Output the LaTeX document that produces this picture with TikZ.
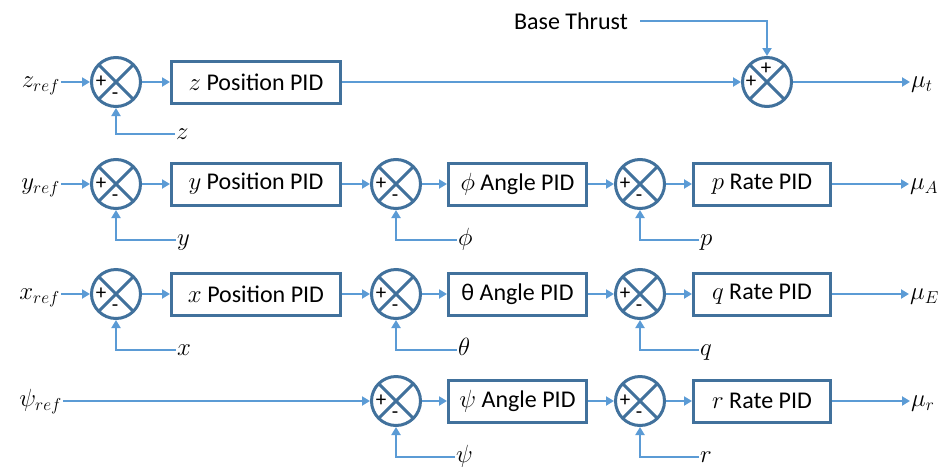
\documentclass[tikz,border=0pt]{standalone}
\usepackage{fontspec}
\setmainfont{Carlito}
\usetikzlibrary{arrows.meta,calc}

\definecolor{wireblue}{HTML}{5B9BD5}
\definecolor{frameblue}{HTML}{41719C}

\tikzset{
  block/.style={draw=frameblue, line width=3pt, minimum width=#1,
    minimum height=42pt, inner sep=0pt,
    font=\fontsize{24}{28}\selectfont},
  block/.default=169pt,
  sumnode/.style={circle, draw=frameblue, line width=3pt,
    minimum size=49pt, inner sep=0pt,
    path picture={\draw[frameblue, line width=3pt]
      (path picture bounding box.north west) -- (path picture bounding box.south east)
      (path picture bounding box.north east) -- (path picture bounding box.south west);}},
  signmark/.style={font=\fontsize{21}{24}\selectfont, inner sep=0pt},
  wireline/.style={draw=wireblue, line width=2.8pt},
  flow/.style={wireline, -{Triangle[length=8pt,width=9pt]}},
  sig/.style={font=\fontsize{26}{30}\selectfont, inner sep=1pt,
    text height=11.2pt, text depth=0pt},
  plain/.style={font=\fontsize{24}{28}\selectfont, inner ysep=1pt},
}

% summing junction: name, x, y (+ on the left, - at the bottom)
\newcommand\sumjunction[3]{%
  \node[sumnode] (#1) at (#2,#3) {};
  \node[signmark] (#1p) at ($(#1)+(-15,0)$) {+};
  \node[signmark] (#1m) at ($(#1)+(-1,14)$) {-};
}

\begin{document}
\begin{tikzpicture}[x=1pt, y=-1pt]
\useasboundingbox (0,0) rectangle (939,469);

% ---------------- altitude loop ----------------
\node[sig, anchor=east] (zref) at (61,82) {$z_{ref}$};
\sumjunction{sza}{116}{82}
\node[block] (zbox) at (256,82) {$z$ Position PID};
\node[sumnode] (thr) at (767,82) {};
\node[signmark] (thrp) at ($(thr)+(-16,0)$) {+};
\node[signmark] (thrq) at ($(thr)+(-1,-13)$) {+};
\node[plain, anchor=east, inner xsep=12pt] (base) at (640,21) {Base Thrust};
\node[sig, anchor=west] (mut) at (910,82) {$\mu_t$};
\node[sig, anchor=west] (zfb) at (175,134) {$z$};

\draw[flow] (zref.east) -- (sza);
\draw[flow] (sza) -- (zbox);
\draw[flow] (zbox) -- (thr);
\draw[flow] (base.east) -| (thr.north);
\draw[flow] (thr) -- (mut.west);
\draw[flow] (zfb.west) -| (sza.south);

% ---------------- roll loop ----------------
\node[sig, anchor=east] (yref) at (61,184) {$y_{ref}$};
\sumjunction{sya}{116}{184}
\node[block] (ybox) at (256,184) {$y$ Position PID};
\sumjunction{syb}{396}{184}
\node[block=138pt] (phibox) at (517.5,184) {$\phi$ Angle PID};
\sumjunction{syc}{640}{184}
\node[block=137pt] (pbox) at (762,184) {$p$ Rate PID};
\node[sig, anchor=west] (muA) at (909,184) {$\mu_A$};
\node[sig, anchor=west] (yfb) at (176,240) {$y$};
\node[sig, anchor=west] (phifb) at (457,240) {$\phi$};
\node[sig, anchor=west] (pfb) at (699,240) {$p$};

\draw[flow] (yref.east) -- (sya);
\draw[flow] (sya) -- (ybox);
\draw[flow] (ybox) -- (syb);
\draw[flow] (syb) -- (phibox);
\draw[flow] (phibox) -- (syc);
\draw[flow] (syc) -- (pbox);
\draw[flow] (pbox) -- (muA.west);
\draw[flow] (yfb.west) -| (sya.south);
\draw[flow] (phifb.west) -| (syb.south);
\draw[flow] (pfb.west) -| (syc.south);

% ---------------- pitch loop ----------------
\node[sig, anchor=east] (xref) at (61,294) {$x_{ref}$};
\sumjunction{sxa}{116}{294}
\node[block] (xbox) at (256,294) {$x$ Position PID};
\sumjunction{sxb}{396}{294}
\node[block=138pt] (thbox) at (517.5,294) {θ Angle PID};
\sumjunction{sxc}{640}{294}
\node[block=137pt] (qbox) at (762,294) {$q$ Rate PID};
\node[sig, anchor=west] (muE) at (909,294) {$\mu_E$};
\node[sig, anchor=west] (xfb) at (176,350) {$x$};
\node[sig, anchor=west] (thfb) at (457,350) {$\theta$};
\node[sig, anchor=west] (qfb) at (699,350) {$q$};

\draw[flow] (xref.east) -- (sxa);
\draw[flow] (sxa) -- (xbox);
\draw[flow] (xbox) -- (sxb);
\draw[flow] (sxb) -- (thbox);
\draw[flow] (thbox) -- (sxc);
\draw[flow] (sxc) -- (qbox);
\draw[flow] (qbox) -- (muE.west);
\draw[flow] (xfb.west) -| (sxa.south);
\draw[flow] (thfb.west) -| (sxb.south);
\draw[flow] (qfb.west) -| (sxc.south);

% ---------------- yaw loop ----------------
\node[sig, anchor=east] (psiref) at (63,401) {$\psi_{ref}$};
\sumjunction{spb}{396}{401}
\node[block=138pt] (psibox) at (517.5,401) {$\psi$ Angle PID};
\sumjunction{spc}{640}{401}
\node[block=137pt] (rbox) at (762,401) {$r$ Rate PID};
\node[sig, anchor=west] (mur) at (910,401) {$\mu_r$};
\node[sig, anchor=west] (psifb) at (455,457) {$\psi$};
\node[sig, anchor=west] (rfb) at (699,457) {$r$};

\draw[flow] (psiref.east) -- (spb);
\draw[flow] (spb) -- (psibox);
\draw[flow] (psibox) -- (spc);
\draw[flow] (spc) -- (rbox);
\draw[flow] (rbox) -- (mur.west);
\draw[flow] (psifb.west) -| (spb.south);
\draw[flow] (rfb.west) -| (spc.south);
\end{tikzpicture}
\end{document}
